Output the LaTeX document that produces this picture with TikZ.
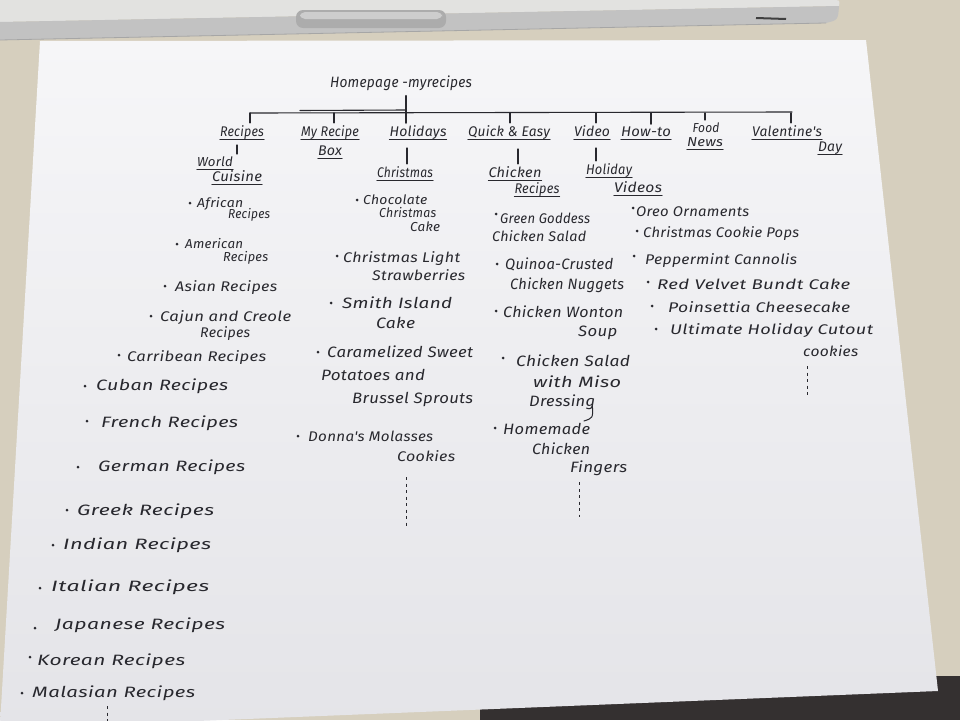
\documentclass[tikz,border=0pt]{standalone}
\usepackage{fontspec}
\usepackage{graphicx}
\newfontfamily\handfont[LetterSpace=2]{Fira Sans}
\usetikzlibrary{calc}

\definecolor{ink}{RGB}{40,40,46}
\definecolor{wall}{RGB}{214,207,190}
\definecolor{floor}{RGB}{52,48,48}
\definecolor{lapbody}{RGB}{226,226,224}
\definecolor{laprim}{RGB}{194,194,194}
\definecolor{slot}{RGB}{172,172,172}
\definecolor{papertop}{RGB}{246,246,248}
\definecolor{paperbot}{RGB}{228,228,232}

% stretch a handwritten line to a given width (in pt)
\newlength\hwlen
\newcommand\hw[2]{\settowidth{\hwlen}{#2}\pgfmathsetmacro\hwf{#1/\hwlen}\scalebox{\hwf}[1]{#2}}
\newcommand\uline[1]{\draw[ulinestyle] ([yshift=-3pt]#1.base west) -- ([yshift=-3pt]#1.base east);}

\tikzset{
  hand/.style={font=\handfont\itshape\fontsize{15}{17}\selectfont, text=ink, inner sep=0pt, anchor=base west},
  handc/.style={hand, anchor=base},
  smallhand/.style={font=\handfont\itshape\fontsize{13}{15}\selectfont},
  midhand/.style={font=\handfont\itshape\fontsize{14}{16}\selectfont},
  dot/.style={circle, fill=ink, inner sep=0pt, minimum size=3pt},
  link/.style={draw=ink, line width=1.1pt, line cap=round},
  ulinestyle/.style={draw=ink, line width=1pt, line cap=round},
  more/.style={draw=ink, line width=1pt, dash pattern=on 3pt off 3.5pt},
}

\begin{document}
\begin{tikzpicture}[x=1pt, y=-1pt]
\useasboundingbox (0,0) rectangle (960,720);

% desk, wall and laptop edge
\fill[wall] (0,0) rectangle (960,720);
\fill[floor] (480,676) rectangle (960,720);
\fill[lapbody] (0,0) -- (832,0) .. controls (840,0) .. (839,6) -- (0,22) -- cycle;
\fill[laprim] (0,22) -- (839,6) .. controls (838,20) .. (826,23) -- (0,40) -- cycle;
\draw[gray!70, line width=0.8pt] (0,40) -- (826,23);
\fill[slot, rounded corners=7pt] (296,10) rectangle (446,28);
\fill[slot!60!white, rounded corners=5pt] (300,12) rectangle (442,19);
\draw[black!75, line width=2pt] (756,18) -- (786,19);

% the sheet of paper
\shade[top color=papertop, bottom color=paperbot] (40,41) -- (866,40) -- (938,691) -- (0,729) -- (0,725) -- cycle;

% root and first level
\node[handc] (home) at (401,87) {\hw{142}{Homepage -myrecipes}};
\coordinate (rt) at (406,96);
\coordinate (bL) at (250,113);
\coordinate (bR) at (792,112);
\draw[link] (bL) -- (bR);
\draw[link] (300,110.5) -- (rt |- 0,110);

\node[handc, midhand] (rec) at (242,136) {\hw{44}{Recipes}};
\node[handc, midhand] (box) at (330,136) {\hw{58}{My Recipe}};
\node[handc, midhand] (boxb) at (330,155) {\hw{24}{Box}};
\node[handc, midhand] (hol) at (418,136) {\hw{57}{Holidays}};
\node[handc, midhand] (quick) at (509,136) {\hw{82}{Quick \& Easy}};
\node[handc, midhand] (video) at (592,136) {\hw{36}{Video}};
\node[handc, midhand] (how) at (646,136) {\hw{50}{How-to}};
\node[handc, smallhand] (food) at (706,132) {\hw{27}{Food}};
\node[handc, smallhand] (news) at (705,146) {\hw{36}{News}};
\node[handc, midhand] (val) at (787,136) {\hw{70}{Valentine's}};
\node[handc, midhand] (day) at (830,151) {\hw{24}{Day}};
\foreach \n in {rec,box,boxb,hol,quick,video,how,news,val,day} {\uline{\n}}

\draw[link, line width=2.3pt, shorten >=2pt] (rt) -- (rt |- hol.north);
\foreach \tx/\lab in {250/rec, 334/box, 510/quick, 596/video, 651/how, 705/food, 791/val} {
  \coordinate (t-\lab) at (\tx,113);
  \draw[link, shorten >=2pt] (t-\lab) -- (t-\lab |- \lab.north);
}

% second level
\node[handc, smallhand] (world) at (215,166) {\hw{36}{World}};
\node[handc, midhand] (cuis) at (237,181) {\hw{50}{Cuisine}};
\node[handc, midhand] (xmas) at (405,177) {\hw{56}{Christmas}};
\node[handc, midhand] (chick) at (515,177) {\hw{53}{Chicken}};
\node[handc, midhand] (chickb) at (537,193) {\hw{45}{Recipes}};
\node[handc, midhand] (hvid) at (609,174) {\hw{46}{Holiday}};
\node[handc, midhand] (hvidb) at (638,192) {\hw{48}{Videos}};
\foreach \n in {world,cuis,xmas,chick,chickb,hvid,hvidb} {\uline{\n}}

\coordinate (s-rec) at (237,145);
\coordinate (s-hol) at (407,148);
\coordinate (s-quick) at (518,149);
\coordinate (s-video) at (596,148);
\draw[link, shorten >=2pt] (s-rec) -- (s-rec |- world.north);
\draw[link, shorten >=2pt] (s-hol) -- (s-hol |- xmas.north);
\draw[link, shorten >=2pt] (s-quick) -- (s-quick |- chick.north);
\draw[link, shorten >=2pt] (s-video) -- (s-video |- hvid.north);

% world cuisine
\node[dot] (c1d) at (190,203) {};
\node[hand, smallhand] (c1) at (197,207) {\hw{46}{African}};
\node[hand, smallhand] (c1b) at (228,218) {\hw{42}{Recipes}};
\node[dot] (c2d) at (177,244) {};
\node[hand, smallhand] (c2) at (185,248) {\hw{58}{American}};
\node[hand, smallhand] (c2b) at (223,261) {\hw{45}{Recipes}};
\node[dot] (c3d) at (165,286) {};
\node[hand, midhand] (c3) at (175,291) {\hw{102}{Asian Recipes}};
\node[dot] (c4d) at (151,316) {};
\node[hand, midhand] (c4) at (160,321) {\hw{131}{Cajun and Creole}};
\node[hand, midhand] (c4b) at (200,337) {\hw{50}{Recipes}};
\node[dot] (c5d) at (119,355) {};
\node[hand, midhand] (c5) at (127,361) {\hw{139}{Carribean Recipes}};
\node[dot] (c6d) at (85,386) {};
\node[hand] (c6) at (96,390) {\hw{132}{Cuban Recipes}};
\node[dot] (c7d) at (87,421) {};
\node[hand] (c7) at (101,427) {\hw{137}{French Recipes}};
\node[dot] (c8d) at (78,467) {};
\node[hand] (c8) at (98,471) {\hw{147}{German Recipes}};
\node[dot] (c9d) at (67,510) {};
\node[hand] (c9) at (77,515) {\hw{137}{Greek Recipes}};
\node[dot] (c10d) at (53,545) {};
\node[hand] (c10) at (63,549) {\hw{148}{Indian Recipes}};
\node[dot] (c11d) at (40,588) {};
\node[hand] (c11) at (51,591) {\hw{158}{Italian Recipes}};
\node[dot] (c12d) at (35,628) {};
\node[hand] (c12) at (55,629) {\hw{170}{Japanese Recipes}};
\node[dot] (c13d) at (30,657) {};
\node[hand] (c13) at (37,665) {\hw{148}{Korean Recipes}};
\node[dot] (c14d) at (22,693) {};
\node[hand] (c14) at (32,697) {\hw{163}{Malasian Recipes}};
\coordinate (c-end) at (107,721);
\draw[more] (107,706) -- (c-end);

% christmas
\node[dot] (h1d) at (357,200) {};
\node[hand, smallhand] (h1) at (363,204) {\hw{64}{Chocolate}};
\node[hand, smallhand] (h1b) at (379,217) {\hw{57}{Christmas}};
\node[hand, smallhand] (h1c) at (410,231) {\hw{30}{Cake}};
\node[dot] (h2d) at (337,256) {};
\node[hand, midhand] (h2) at (343,262) {\hw{117}{Christmas Light}};
\node[hand, midhand] (h2b) at (372,280) {\hw{93}{Strawberries}};
\node[dot] (h3d) at (331,303) {};
\node[hand] (h3) at (342,308) {\hw{110}{Smith Island}};
\node[hand] (h3b) at (376,328) {\hw{39}{Cake}};
\node[dot] (h4d) at (318,352) {};
\node[hand] (h4) at (327,357) {\hw{146}{Caramelized Sweet}};
\node[hand] (h4b) at (321,380) {\hw{104}{Potatoes and}};
\node[hand] (h4c) at (352,403) {\hw{121}{Brussel Sprouts}};
\node[dot] (h5d) at (298,436) {};
\node[hand, midhand] (h5) at (308,441) {\hw{125}{Donna's Molasses}};
\node[hand, midhand] (h5b) at (397,461) {\hw{58}{Cookies}};
\coordinate (h-top) at (406,477);
\coordinate (h-end) at (406,527);
\draw[more] (h-top) -- (h-end);

% chicken recipes
\node[dot] (k1d) at (496,214) {};
\node[hand, midhand] (k1) at (500,223) {\hw{90}{Green Goddess}};
\node[hand, midhand] (k1b) at (492,241) {\hw{94}{Chicken Salad}};
\node[dot] (k2d) at (497,264) {};
\node[hand] (k2) at (505,269) {\hw{108}{Quinoa-Crusted}};
\node[hand] (k2b) at (510,289) {\hw{114}{Chicken Nuggets}};
\node[dot] (k3d) at (496,311) {};
\node[hand] (k3) at (503,317) {\hw{120}{Chicken Wonton}};
\node[hand] (k3b) at (578,336) {\hw{39}{Soup}};
\node[dot] (k4d) at (503,358) {};
\node[hand] (k4) at (516,366) {\hw{114}{Chicken Salad}};
\node[hand] (k4b) at (533,387) {\hw{88}{with Miso}};
\node[hand] (k4c) at (529,406) {\hw{66}{Dressing}};
\coordinate (k-hook) at (584,421);
\draw[ulinestyle] ([xshift=-3pt]k4c.base east) .. controls (593,418) .. (k-hook);
\node[dot] (k5d) at (495,428) {};
\node[hand] (k5) at (503,434) {\hw{87}{Homemade}};
\node[hand] (k5b) at (532,454) {\hw{58}{Chicken}};
\node[hand] (k5c) at (570,472) {\hw{57}{Fingers}};
\coordinate (k-top) at (579,482);
\coordinate (k-end) at (579,517);
\draw[more] (k-top) -- (k-end);

% holiday videos
\node[dot] (v1d) at (633,208) {};
\node[hand, midhand] (v1) at (636,216) {\hw{113}{Oreo Ornaments}};
\node[dot] (v2d) at (637,231) {};
\node[hand, midhand] (v2) at (643,237) {\hw{156}{Christmas Cookie Pops}};
\node[dot] (v3d) at (634,256) {};
\node[hand, midhand] (v3) at (645,264) {\hw{152}{Peppermint Cannolis}};
\node[dot] (v4d) at (648,282) {};
\node[hand, midhand] (v4) at (657,289) {\hw{193}{Red Velvet Bundt Cake}};
\node[dot] (v5d) at (652,306) {};
\node[hand, midhand] (v5) at (668,312) {\hw{182}{Poinsettia Cheesecake}};
\node[dot] (v6d) at (656,329) {};
\node[hand, midhand] (v6) at (670,334) {\hw{203}{Ultimate Holiday Cutout}};
\node[hand, midhand] (v6b) at (803,356) {\hw{55}{cookies}};
\coordinate (v-top) at (807,366);
\coordinate (v-end) at (807,398);
\draw[more] (v-top) -- (v-end);

\end{tikzpicture}
\end{document}
